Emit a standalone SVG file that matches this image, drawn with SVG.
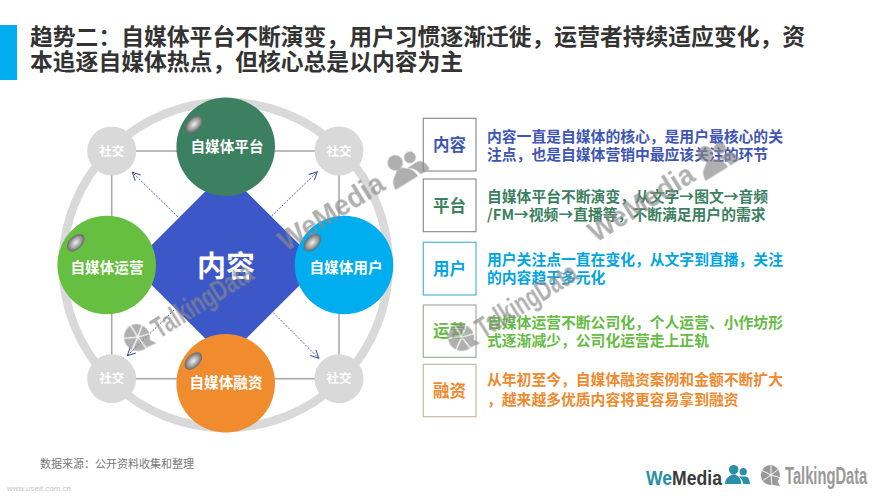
<svg xmlns="http://www.w3.org/2000/svg" width="888" height="500" viewBox="0 0 888 500">
<style>
text{font-family:"Noto Sans CJK SC","Liberation Sans",sans-serif}
.title{font-size:22.8px;font-weight:700;fill:#333}
.big{font-size:14.6px;font-weight:700;fill:#fff;text-anchor:middle}
.soc{font-size:12.5px;font-weight:700;fill:#fff;text-anchor:middle}
.lab{font-size:16.5px;font-weight:700;text-anchor:middle}
.desc{font-size:14.8px;font-weight:700}
.box{fill:#fff;stroke-width:1.2}
.wm{font-family:"Liberation Sans",sans-serif;font-weight:700;fill:#8a8a8a}
.logo{font-family:"Liberation Sans",sans-serif;font-weight:700}
.link{stroke:#aaa;stroke-width:1.6;fill:none}
.arrow{stroke:#3b4f9e;stroke-width:.9;stroke-dasharray:2 1.5;fill:none;marker-end:url(#ah)}
</style>
<defs>
<marker id="ah" viewBox="0 0 10 10" refX="9" refY="5" markerWidth="10" markerHeight="10" orient="auto" markerUnits="userSpaceOnUse">
<path d="M1 1L9 5L1 9" fill="none" stroke="#3b4f9e" stroke-width="1"/>
</marker>
<radialGradient id="gl"><stop offset="0" stop-color="#eee"/><stop offset=".55" stop-color="#aaa"/><stop offset="1" stop-color="#666"/></radialGradient>
<symbol id="people" viewBox="0 0 26 22" overflow="visible">
<circle cx="9" cy="6" r="5"/><path d="M0 21C0 14 5 13 7 11H11C13 13 17 14 17 21Z"/>
<circle cx="19" cy="8" r="3.8"/><path d="M14 13H22C25 14 26 17 26 21H19C19 18 17 15 14 13Z"/>
</symbol>
<symbol id="talk" viewBox="0 0 24 24" overflow="visible">
<path d="M12 1A11 11 0 1 0 14 22.800L22 24L19 19A11 11 0 0 0 12 1Z"/>
<path d="M12 12L12 1M12 12L2 7M12 12L3 18M12 12L13 23M12 12L22 15M12 12L21 5" stroke="#fff" stroke-width="1" fill="none"/>
</symbol>
</defs>
<rect width="888" height="500" fill="#fff"/>
<rect id="accent" x="0" y="25" width="17" height="55" fill="#00aeef"/>
<g id="title">
<text class="title" x="30" y="45">趋势二：自媒体平台不断演变，用户习惯逐渐迁徙，运营者持续适应变化，资</text>
<text class="title" x="30" y="70">本追逐自媒体热点，但核心总是以内容为主</text>
</g>
<circle id="ring" cx="225.700" cy="265" r="163" fill="none" stroke="#d9d9d9" stroke-width="8.500"/>
<g id="connectors">
<rect class="link" x="111.700" y="151" width="227.300" height="227.700"/>
<path class="arrow" d="M177.700 216.700L132.300 172.300"/>
<path class="arrow" d="M271.700 216L317.300 171.700"/>
<path class="arrow" d="M174 310L127.300 355.700"/>
<path class="arrow" d="M273.300 312.700L318.700 358.300"/>
</g>
<g id="social-tl"><circle cx="111.700" cy="151" r="24.500" fill="#d9d9d9"/><text class="soc" x="111.700" y="155.500">社交</text></g>
<g id="social-tr"><circle cx="339" cy="151" r="24.500" fill="#d9d9d9"/><text class="soc" x="339" y="155.500">社交</text></g>
<g id="social-bl"><circle cx="111.700" cy="378.700" r="24.500" fill="#d9d9d9"/><text class="soc" x="111.700" y="383.200">社交</text></g>
<g id="social-br"><circle cx="339" cy="378.700" r="24.500" fill="#d9d9d9"/><text class="soc" x="339" y="383.200">社交</text></g>
<g id="node-content"><path d="M225.700 171L320 265L225.700 359L131.700 265Z" fill="#3c58c8"/><text x="226" y="277" font-size="29" font-weight="700" fill="#fff" text-anchor="middle">内容</text></g>
<g id="node-platform"><circle cx="225.700" cy="146.700" r="49.300" fill="#3b8060"/><ellipse cx="194" cy="124.300" rx="10.500" ry="6.500" transform="rotate(-45 194 124.300)" fill="url(#gl)"/><text class="big" x="227" y="152">自媒体平台</text></g>
<g id="node-ops"><circle cx="106.700" cy="265" r="49.300" fill="#66bf40"/><ellipse cx="75.700" cy="242.700" rx="10.500" ry="6.500" transform="rotate(-45 75.700 242.700)" fill="url(#gl)"/><text class="big" x="107" y="273">自媒体运营</text></g>
<g id="node-user"><circle cx="344" cy="265" r="49.300" fill="#00aeef"/><ellipse cx="312.300" cy="242.700" rx="10.500" ry="6.500" transform="rotate(-45 312.300 242.700)" fill="url(#gl)"/><text class="big" x="346" y="273">自媒体用户</text></g>
<g id="node-finance"><circle cx="225.700" cy="383.300" r="49.300" fill="#f08c2e"/><ellipse cx="193.300" cy="361" rx="10.500" ry="6.500" transform="rotate(-45 193.300 361)" fill="url(#gl)"/><text class="big" x="226" y="388">自媒体融资</text></g>

<g id="row-content"><rect class="box" x="423.300" y="118.300" width="52.700" height="52.700" stroke="#8a8f9c"/><text class="lab" x="449.600" y="150.500" fill="#3f55b5">内容</text>
<text class="desc" fill="#3f55b5" x="487" y="142">内容一直是自媒体的核心，是用户最核心的关</text><text class="desc" fill="#3f55b5" x="487" y="160">注点，也是自媒体营销中最应该关注的环节</text></g>
<g id="row-platform"><rect class="box" x="423.300" y="179" width="52.700" height="52.700" stroke="#8a8f8c"/><text class="lab" x="449.600" y="211.500" fill="#3b8060">平台</text>
<text class="desc" fill="#3b8060" x="487" y="202">自媒体平台不断演变，从文字→图文→音频</text><text class="desc" fill="#3b8060" x="487" y="220">/FM→视频→直播等，不断满足用户的需求</text></g>
<g id="row-user"><rect class="box" x="423.300" y="242.300" width="52.700" height="52.700" stroke="#4fb6d8"/><text class="lab" x="449.600" y="274.500" fill="#00a5e3">用户</text>
<text class="desc" fill="#00a5e3" x="487" y="265">用户关注点一直在变化，从文字到直播，关注</text><text class="desc" fill="#00a5e3" x="487" y="283">的内容趋于多元化</text></g>
<g id="row-ops"><rect class="box" x="423.300" y="305" width="52.700" height="52.300" stroke="#a5aca0"/><text class="lab" x="449.600" y="337" fill="#66bb44">运营</text>
<text class="desc" fill="#66bb44" x="487" y="328">自媒体运营不断公司化，个人运营、小作坊形</text><text class="desc" fill="#66bb44" x="487" y="346">式逐渐减少，公司化运营走上正轨</text></g>
<g id="row-finance"><rect class="box" x="423.300" y="364.300" width="52.700" height="52.400" stroke="#c9b8a4"/><text class="lab" x="449.600" y="396.500" fill="#ee8a2e">融资</text>
<text class="desc" fill="#ee8a2e" x="487" y="385">从年初至今，自媒体融资案例和金额不断扩大</text><text class="desc" fill="#ee8a2e" x="487" y="405">，越来越多优质内容将更容易拿到融资</text></g>

<g id="watermarks" opacity=".68">
<g transform="translate(286 252) rotate(-32)"><text class="wm" font-size="30" transform="scale(.92 1)">WeMedia</text><use href="#people" x="126" y="-27" width="40" height="34" fill="#8a8a8a"/></g>
<g transform="translate(596 243) rotate(-32)"><text class="wm" font-size="30" transform="scale(.92 1)">WeMedia</text><use href="#people" x="126" y="-27" width="40" height="34" fill="#8a8a8a"/></g>
<g transform="translate(132 356) rotate(-32)"><use href="#talk" x="0" y="-28" width="30" height="30" fill="#8a8a8a"/><text class="wm" font-size="30" transform="translate(32 0) scale(.68 1)">TalkingData</text></g>
<g transform="translate(456 356) rotate(-32)"><use href="#talk" x="0" y="-28" width="30" height="30" fill="#8a8a8a"/><text class="wm" font-size="30" transform="translate(32 0) scale(.68 1)">TalkingData</text></g>
</g>

<g id="footer">
<text x="40" y="468" font-size="11" fill="#777">数据来源：公开资料收集和整理</text>
<text x="7" y="491" font-size="8" fill="#c4c4c4" font-style="italic" style="font-family:'Liberation Sans',sans-serif">www.useit.com.cn</text>
<text class="logo" font-size="20" transform="translate(646 485) scale(.88 1)"><tspan fill="#2a8fa8">We</tspan><tspan fill="#3a3a3a">Media</tspan></text>
<use href="#people" x="725" y="464" width="25" height="21" fill="#2a8fa8"/>
<use href="#talk" x="760" y="464" width="22" height="22" fill="#999"/>
<text class="logo" font-size="23" fill="#999" transform="translate(785 484) scale(.64 1)">TalkingData</text>
</g>
</svg>
